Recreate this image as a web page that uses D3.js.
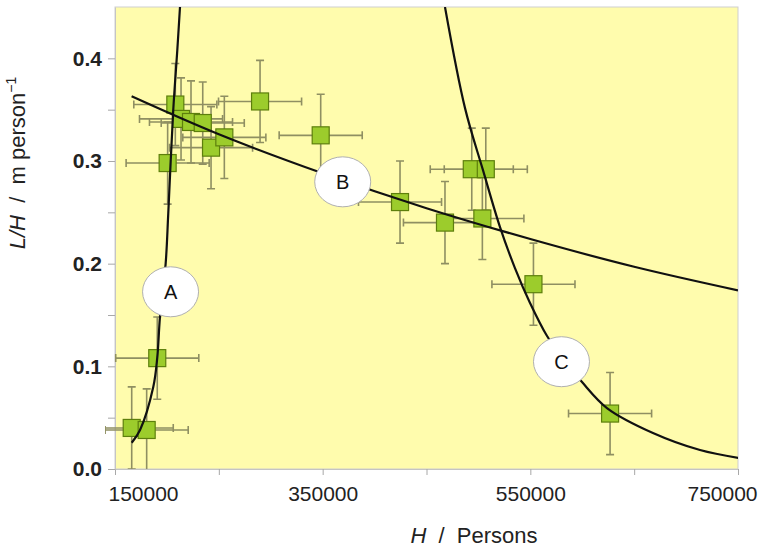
<!DOCTYPE html>
<meta charset="utf-8">
<style>
body { margin: 0; background: #fff; }
svg { font-family: "Liberation Sans", Arial, sans-serif; }
.axis path { stroke: #c4c4c4; }
.axis line { stroke: #a8a8a8; }
.axis text { font-size: 21px; fill: #222; }
.err { stroke: #8f8f62; stroke-width: 1.6; }
.pt { fill: #9ccc2c; stroke: #5d7f0c; stroke-width: 1.2; }
.fit { fill: none; stroke: #111; stroke-width: 2.2; }
.lab ellipse { fill: #fff; stroke: #b0b0b0; stroke-width: 1; }
.lab text { font-size: 20px; fill: #111; }
</style>
<body>
<script src="https://d3js.org/d3.v7.min.js"></script>
<script>

// measured points (H in persons, L/H in m per person)
var hVals  = [190700, 166100, 180500, 200700, 208100, 213600, 223200, 234500, 242500, 255300,
              289700, 348100, 424500, 467800, 493600, 507100, 503800, 553000, 626800];
var lhVals = [0.108, 0.040, 0.038, 0.298, 0.355, 0.341, 0.338, 0.337, 0.313, 0.323,
              0.358, 0.325, 0.260, 0.240, 0.292, 0.292, 0.244, 0.180, 0.054];
var hErr   = [40000, 40000, 40000, 40000, 40000, 40000, 40000, 40000, 40000, 40000,
              40000, 40000, 40000, 40000, 40000, 40000, 40000, 40000, 40000];
var lhErr  = [0.04, 0.04, 0.04, 0.04, 0.04, 0.04, 0.04, 0.04, 0.04, 0.04,
              0.04, 0.04, 0.04, 0.04, 0.04, 0.04, 0.04, 0.04, 0.04];

// curves
var curveAH = [166100, 174100, 186900, 190700, 193300, 198800, 201300, 206100, 210000, 212600];
var curveAL = [0.0256, 0.038, 0.0801, 0.1084, 0.148, 0.2003, 0.249, 0.3496, 0.408, 0.450];
var curveBH = [166000, 250000, 350000, 450000, 550000, 650000, 750000];
var curveBL = [0.363, 0.326, 0.288, 0.254, 0.224, 0.197, 0.174];
var curveCH = [467800, 487100, 504400, 520800, 535200, 549700, 566100, 583400, 599800, 623800, 668100, 713400, 751000];
var curveCL = [0.450, 0.3515, 0.2911, 0.2356, 0.1957, 0.1617, 0.1295, 0.1052, 0.0847, 0.0594, 0.0351, 0.0185, 0.0107];

var curveNames = ["A", "B", "C"];
var labelH = [203500, 369300, 580000];
var labelL = [0.1726, 0.2797, 0.1045];

var xTicks = [150000, 250000, 350000, 450000, 550000, 650000, 750000];
var xLabelled = [150000, 350000, 550000, 750000];
var yTicks = [0, 0.05, 0.1, 0.15, 0.2, 0.25, 0.3, 0.35, 0.4];
var yLabelled = [0, 0.1, 0.2, 0.3, 0.4];

var margin = {top: 7, right: 24, bottom: 83, left: 115},
    width = 762 - margin.left - margin.right,
    height = 552 - margin.top - margin.bottom;

var svg = d3.select("body").append("svg")
    .attr("width", 762)
    .attr("height", 552);

var g = svg.append("g")
    .attr("transform", "translate(" + margin.left + "," + margin.top + ")");

var x = d3.scaleLinear().domain([150000, 750000]).range([0, width]);
var y = d3.scaleLinear().domain([0, 0.45]).range([height, 0]);

svg.append("defs").append("clipPath").attr("id", "plotclip")
  .append("rect").attr("width", width).attr("height", height);
svg.select("defs").append("clipPath").attr("id", "barclip")
  .append("rect").attr("x", -10).attr("y", -10).attr("width", width + 20).attr("height", height + 10);

g.append("rect")
    .attr("width", width).attr("height", height)
    .attr("fill", "#fffcad")
    .attr("stroke", "#cfcfcf");

var xAxis = g.append("g")
    .attr("class", "axis")
    .attr("transform", "translate(0," + height + ")")
    .call(d3.axisBottom(x).tickValues(xTicks).tickSize(6).tickSizeOuter(0)
      .tickFormat(function(d) { return xLabelled.indexOf(d) >= 0 ? d3.format("d")(d) : ""; }));
xAxis.selectAll("text").attr("dy", "1.1em");
// the end labels sit pulled in as in the original
xAxis.selectAll(".tick text").filter(function(d) { return d === 150000; }).attr("dx", 28);
xAxis.selectAll(".tick text").filter(function(d) { return d === 750000; }).attr("dx", -16);

var yAxis = g.append("g")
    .attr("class", "axis")
    .call(d3.axisLeft(y).tickValues(yTicks).tickSize(7).tickSizeOuter(0).tickPadding(6)
      .tickFormat(function(d) { return yLabelled.indexOf(d) >= 0 ? d3.format(".1f")(d) : ""; }));
yAxis.selectAll("text").attr("font-weight", "bold");

var pts = hVals.map(function(h, i) {
    return {h: h, l: lhVals[i], eh: hErr[i], el: lhErr[i]};
});

var bars = g.append("g").attr("clip-path", "url(#barclip)");
var cap = 4;
pts.forEach(function(d) {
    var cx = x(d.h), cy = y(d.l);
    var x0 = x(d.h - d.eh), x1 = x(d.h + d.eh);
    var y0 = y(d.l - d.el), y1 = y(d.l + d.el);
    bars.append("path").attr("class", "err")
        .attr("d", "M" + x0 + "," + cy + "H" + x1 +
                   "M" + x0 + "," + (cy - cap) + "V" + (cy + cap) +
                   "M" + x1 + "," + (cy - cap) + "V" + (cy + cap) +
                   "M" + cx + "," + y0 + "V" + y1 +
                   "M" + (cx - cap) + "," + y0 + "H" + (cx + cap) +
                   "M" + (cx - cap) + "," + y1 + "H" + (cx + cap));
});

var sz = 17;
g.append("g").selectAll("rect")
    .data(pts)
  .enter().append("rect")
    .attr("class", "pt")
    .attr("x", function(d) { return x(d.h) - sz / 2; })
    .attr("y", function(d) { return y(d.l) - sz / 2; })
    .attr("width", sz).attr("height", sz);

var line = d3.line()
    .x(function(d) { return x(d[0]); })
    .y(function(d) { return y(d[1]); })
    .curve(d3.curveCatmullRom);

var curves = [d3.zip(curveAH, curveAL), d3.zip(curveBH, curveBL), d3.zip(curveCH, curveCL)];
g.append("g").attr("clip-path", "url(#plotclip)")
  .selectAll("path")
    .data(curves)
  .enter().append("path")
    .attr("class", "fit")
    .attr("d", line);

var lab = g.append("g").selectAll("g")
    .data(curveNames)
  .enter().append("g")
    .attr("class", "lab")
    .attr("transform", function(d, i) { return "translate(" + x(labelH[i]) + "," + y(labelL[i]) + ")"; });
lab.append("ellipse").attr("rx", 28).attr("ry", 25);
lab.append("text").attr("text-anchor", "middle").attr("dy", "0.36em").text(function(d) { return d; });

// axis titles
var xt = svg.append("text")
    .attr("x", 474).attr("y", 543)
    .attr("text-anchor", "middle")
    .attr("font-size", 22)
    .attr("fill", "#222");
xt.append("tspan").attr("font-style", "italic").text("H");
xt.append("tspan").text("\u00a0\u00a0/\u00a0\u00a0Persons");

var yt = svg.append("text")
    .attr("transform", "translate(25,163) rotate(-90)")
    .attr("text-anchor", "middle")
    .attr("font-size", 22)
    .attr("fill", "#222");
yt.append("tspan").attr("font-style", "italic").text("L/H");
yt.append("tspan").text("\u00a0\u00a0/\u00a0\u00a0m person");
yt.append("tspan").attr("font-size", 14).attr("dy", -9).text("\u22121");

</script>
